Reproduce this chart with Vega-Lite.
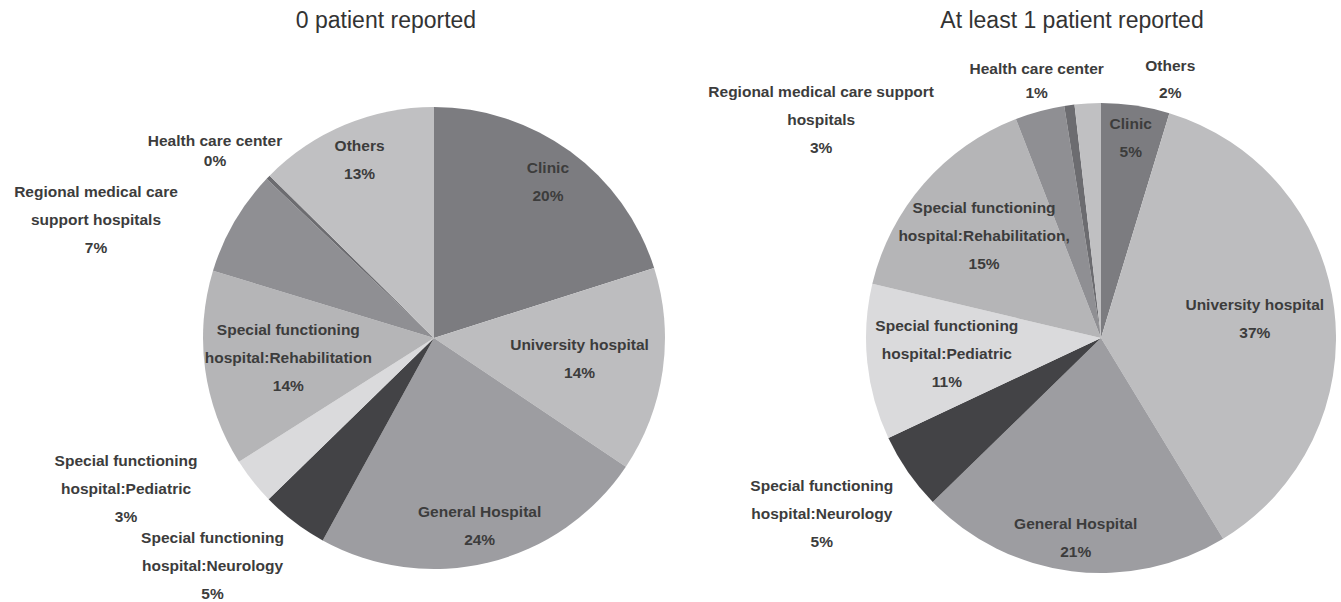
{
  "$schema": "https://vega.github.io/schema/vega-lite/v6.json",
  "padding": {"left": 0, "right": 0, "top": 10, "bottom": 0},
  "autosize": {"type": "pad"},
  "spacing": 0,
  "bounds": "flush",
  "config": {
    "view": {"stroke": null},
    "title": {"font": "Liberation Sans", "fontSize": 23, "fontWeight": "normal", "color": "#333333", "anchor": "middle", "frame": "group", "offset": 10},
    "text": {"font": "Liberation Sans", "fontSize": 15.5, "fontWeight": "bold", "fill": "#3c3c3c", "lineHeight": 28, "lineBreak": "\n", "align": "center", "baseline": "middle"}
  },
  "data": {
    "values": [
      {"chart": "0 patient reported", "rank": 1, "category": "Clinic", "label": "Clinic", "value": 20.1},
      {"chart": "0 patient reported", "rank": 2, "category": "University hospital", "label": "University hospital", "value": 14.3},
      {"chart": "0 patient reported", "rank": 3, "category": "General Hospital", "label": "General Hospital", "value": 23.6},
      {"chart": "0 patient reported", "rank": 4, "category": "Special functioning hospital:Neurology", "label": "Special functioning\nhospital:Neurology", "value": 4.7},
      {"chart": "0 patient reported", "rank": 5, "category": "Special functioning hospital:Pediatric", "label": "Special functioning\nhospital:Pediatric", "value": 3.3},
      {"chart": "0 patient reported", "rank": 6, "category": "Special functioning hospital:Rehabilitation", "label": "Special functioning\nhospital:Rehabilitation", "value": 13.7},
      {"chart": "0 patient reported", "rank": 7, "category": "Regional medical care support hospitals", "label": "Regional medical care\nsupport hospitals", "value": 7.4},
      {"chart": "0 patient reported", "rank": 8, "category": "Health care center", "label": "Health care center", "value": 0.3},
      {"chart": "0 patient reported", "rank": 9, "category": "Others", "label": "Others", "value": 12.6},
      {"chart": "At least 1 patient reported", "rank": 1, "category": "Clinic", "label": "Clinic", "value": 4.7},
      {"chart": "At least 1 patient reported", "rank": 2, "category": "University hospital", "label": "University hospital", "value": 36.6},
      {"chart": "At least 1 patient reported", "rank": 3, "category": "General Hospital", "label": "General Hospital", "value": 21.4},
      {"chart": "At least 1 patient reported", "rank": 4, "category": "Special functioning hospital:Neurology", "label": "Special functioning\nhospital:Neurology", "value": 5.3},
      {"chart": "At least 1 patient reported", "rank": 5, "category": "Special functioning hospital:Pediatric", "label": "Special functioning\nhospital:Pediatric", "value": 10.7},
      {"chart": "At least 1 patient reported", "rank": 6, "category": "Special functioning hospital:Rehabilitation", "label": "Special functioning\nhospital:Rehabilitation,", "value": 15.4},
      {"chart": "At least 1 patient reported", "rank": 7, "category": "Regional medical care support hospitals", "label": "Regional medical care support\nhospitals", "value": 3.4},
      {"chart": "At least 1 patient reported", "rank": 8, "category": "Health care center", "label": "Health care center", "value": 0.7},
      {"chart": "At least 1 patient reported", "rank": 9, "category": "Others", "label": "Others", "value": 1.8}
    ]
  },
  "hconcat": [
    {
      "title": {"text": "0 patient reported", "dx": -48},
      "width": 868,
      "height": 590,
      "transform": [
        {"filter": "datum.chart === '0 patient reported'"},
        {"stack": "value", "groupby": [], "sort": [{"field": "rank", "order": "ascending"}], "as": ["v0", "v1"]},
        {"calculate": "(datum.v0 + datum.v1) / 2", "as": "mid"},
        {"calculate": "datum.label + '\\n' + format(datum.value, '.0f') + '%'", "as": "txt"}
      ],
      "layer": [
        {
          "mark": {"type": "arc", "radius": 231, "stroke": null},
          "encoding": {
            "theta": {"field": "v0", "type": "quantitative", "scale": {"domain": [0, 100]}, "stack": null},
            "theta2": {"field": "v1"},
            "color": {
              "field": "category", "type": "nominal", "legend": null,
              "scale": {
                "domain": ["Clinic", "University hospital", "General Hospital", "Special functioning hospital:Neurology", "Special functioning hospital:Pediatric", "Special functioning hospital:Rehabilitation", "Regional medical care support hospitals", "Health care center", "Others"],
                "range": ["#7c7c80", "#bdbdbf", "#9d9da1", "#434346", "#dadadc", "#b5b5b7", "#8f8f93", "#6c6c70", "#c0c0c2"]
              }
            }
          }
        },
        {
          "transform": [{"filter": {"field": "category", "oneOf": ["Clinic", "General Hospital", "Others"]}}],
          "mark": {"type": "text", "radius": 193, "dy": -14},
          "encoding": {
            "theta": {"field": "mid", "type": "quantitative", "scale": {"domain": [0, 100]}, "stack": null},
            "text": {"field": "txt"}
          }
        },
        {
          "transform": [{"filter": {"field": "category", "oneOf": ["University hospital"]}}],
          "mark": {"type": "text", "radius": 147, "dy": -14},
          "encoding": {
            "theta": {"field": "mid", "type": "quantitative", "scale": {"domain": [0, 100]}, "stack": null},
            "text": {"field": "txt"}
          }
        },
        {
          "transform": [{"filter": {"field": "category", "oneOf": ["Special functioning hospital:Rehabilitation"]}}],
          "mark": {"type": "text", "radius": 147, "dy": -28},
          "encoding": {
            "theta": {"field": "mid", "type": "quantitative", "scale": {"domain": [0, 100]}, "stack": null},
            "text": {"field": "txt"}
          }
        },
        {
          "transform": [{"filter": {"field": "category", "oneOf": ["Health care center"]}}],
          "mark": {"type": "text", "radius": 288, "thetaOffset": -0.063, "lineHeight": 20, "dy": -10},
          "encoding": {
            "theta": {"field": "mid", "type": "quantitative", "scale": {"domain": [0, 100]}, "stack": null},
            "text": {"field": "txt"}
          }
        },
        {
          "transform": [{"filter": {"field": "category", "oneOf": ["Regional medical care support hospitals"]}}],
          "mark": {"type": "text", "radius": 358, "thetaOffset": -0.192, "dy": -28},
          "encoding": {
            "theta": {"field": "mid", "type": "quantitative", "scale": {"domain": [0, 100]}, "stack": null},
            "text": {"field": "txt"}
          }
        },
        {
          "transform": [{"filter": {"field": "category", "oneOf": ["Special functioning hospital:Pediatric"]}}],
          "mark": {"type": "text", "radius": 343, "thetaOffset": 0.213, "dy": -28},
          "encoding": {
            "theta": {"field": "mid", "type": "quantitative", "scale": {"domain": [0, 100]}, "stack": null},
            "text": {"field": "txt"}
          }
        },
        {
          "transform": [{"filter": {"field": "category", "oneOf": ["Special functioning hospital:Neurology"]}}],
          "mark": {"type": "text", "radius": 318, "thetaOffset": 0.12, "dy": -28},
          "encoding": {
            "theta": {"field": "mid", "type": "quantitative", "scale": {"domain": [0, 100]}, "stack": null},
            "text": {"field": "txt"}
          }
        }
      ]
    },
    {
      "title": {"text": "At least 1 patient reported", "dx": -29},
      "width": 466,
      "height": 590,
      "transform": [
        {"filter": "datum.chart === 'At least 1 patient reported'"},
        {"stack": "value", "groupby": [], "sort": [{"field": "rank", "order": "ascending"}], "as": ["v0", "v1"]},
        {"calculate": "(datum.v0 + datum.v1) / 2", "as": "mid"},
        {"calculate": "datum.label + '\\n' + format(datum.value, '.0f') + '%'", "as": "txt"}
      ],
      "layer": [
        {
          "mark": {"type": "arc", "radius": 235, "stroke": null},
          "encoding": {
            "theta": {"field": "v0", "type": "quantitative", "scale": {"domain": [0, 100]}, "stack": null},
            "theta2": {"field": "v1"},
            "color": {
              "field": "category", "type": "nominal", "legend": null,
              "scale": {
                "domain": ["Clinic", "University hospital", "General Hospital", "Special functioning hospital:Neurology", "Special functioning hospital:Pediatric", "Special functioning hospital:Rehabilitation", "Regional medical care support hospitals", "Health care center", "Others"],
                "range": ["#7c7c80", "#bdbdbf", "#9d9da1", "#434346", "#dadadc", "#b5b5b7", "#8f8f93", "#6c6c70", "#c6c6c8"]
              }
            }
          }
        },
        {
          "transform": [{"filter": {"field": "category", "oneOf": ["Clinic", "General Hospital"]}}],
          "mark": {"type": "text", "radius": 202, "dy": -14},
          "encoding": {
            "theta": {"field": "mid", "type": "quantitative", "scale": {"domain": [0, 100]}, "stack": null},
            "text": {"field": "txt"}
          }
        },
        {
          "transform": [{"filter": {"field": "category", "oneOf": ["University hospital"]}}],
          "mark": {"type": "text", "radius": 155, "dy": -14},
          "encoding": {
            "theta": {"field": "mid", "type": "quantitative", "scale": {"domain": [0, 100]}, "stack": null},
            "text": {"field": "txt"}
          }
        },
        {
          "transform": [{"filter": {"field": "category", "oneOf": ["Special functioning hospital:Pediatric", "Special functioning hospital:Rehabilitation"]}}],
          "mark": {"type": "text", "radius": 155, "dy": -28},
          "encoding": {
            "theta": {"field": "mid", "type": "quantitative", "scale": {"domain": [0, 100]}, "stack": null},
            "text": {"field": "txt"}
          }
        },
        {
          "transform": [{"filter": {"field": "category", "oneOf": ["Special functioning hospital:Neurology"]}}],
          "mark": {"type": "text", "radius": 330, "thetaOffset": 0.044, "dy": -28},
          "encoding": {
            "theta": {"field": "mid", "type": "quantitative", "scale": {"domain": [0, 100]}, "stack": null},
            "text": {"field": "txt"}
          }
        },
        {
          "transform": [{"filter": {"field": "category", "oneOf": ["Regional medical care support hospitals"]}}],
          "mark": {"type": "text", "radius": 355, "thetaOffset": -0.644, "dy": -28},
          "encoding": {
            "theta": {"field": "mid", "type": "quantitative", "scale": {"domain": [0, 100]}, "stack": null},
            "text": {"field": "txt"}
          }
        },
        {
          "transform": [{"filter": {"field": "category", "oneOf": ["Health care center"]}}],
          "mark": {"type": "text", "radius": 265, "thetaOffset": -0.11, "lineHeight": 24, "dy": -12},
          "encoding": {
            "theta": {"field": "mid", "type": "quantitative", "scale": {"domain": [0, 100]}, "stack": null},
            "text": {"field": "txt"}
          }
        },
        {
          "transform": [{"filter": {"field": "category", "oneOf": ["Others"]}}],
          "mark": {"type": "text", "radius": 268, "thetaOffset": 0.318, "lineHeight": 27, "dy": -13.5},
          "encoding": {
            "theta": {"field": "mid", "type": "quantitative", "scale": {"domain": [0, 100]}, "stack": null},
            "text": {"field": "txt"}
          }
        }
      ]
    }
  ]
}
